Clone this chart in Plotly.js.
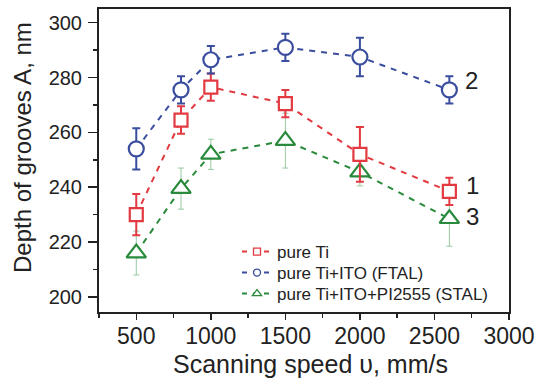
<!DOCTYPE html>
<html>
<head>
<meta charset="utf-8">
<script src="https://cdn.plot.ly/plotly-3.0.1.min.js"></script>
<style>html,body{margin:0;padding:0;background:#fff;}#chart{width:537px;height:380px;}</style>
</head>
<body>
<div id="chart"></div>
<script>
const speeds = [500, 800, 1000, 1500, 2000, 2600];
const tiDepth = [230, 264.5, 276.5, 270.5, 252, 238.5];
const tiErr = [7.5, 5, 5, 5, 10, 5];
const ftalDepth = [254, 275.5, 286.5, 291, 287.5, 275.5];
const ftalErr = [7.5, 5, 5, 5, 7, 5];
const stalDepth = [216, 239.5, 252, 257, 245.5, 228.5];
const stalErr = [8, 7.5, 5.5, 10, 5, 10];
const seriesNames = ['pure Ti', 'pure Ti+ITO (FTAL)', 'pure Ti+ITO+PI2555 (STAL)'];
const curveLabels = ['1', '2', '3'];

const RED = '#e23a40', BLUE = '#3a4d9e', GREEN = '#2a8a3c';
const FONT = 'Arial, "Liberation Sans", sans-serif';

function mainTrace(y, err, color, symbol, size, errColor, errThick, errWidth) {
  return {
    x: speeds, y: y, type: 'scatter', mode: 'lines+markers', showlegend: false,
    line: {color: color, width: 2, dash: '6px,6px'},
    marker: {symbol: symbol, size: size, color: 'white', line: {color: color, width: 2.2}},
    error_y: {type: 'data', array: err, visible: true, color: errColor, thickness: errThick, width: errWidth}
  };
}
function legendTrace(name, color, symbol, size, legendId) {
  return {
    x: [null], y: [null], type: 'scatter', mode: 'lines+markers', name: name, legend: legendId,
    line: {color: color, width: 2, dash: '5px,6px'},
    marker: {symbol: symbol, size: size, color: 'white', line: {color: color, width: 1.3}}
  };
}

const data = [
  mainTrace(stalDepth, stalErr, GREEN, 'triangle-up', 17, '#96c9a0', 1, 3),
  mainTrace(tiDepth, tiErr, RED, 'square', 13, RED, 2, 4),
  mainTrace(ftalDepth, ftalErr, BLUE, 'circle', 15, BLUE, 2, 4),
  legendTrace(seriesNames[0], RED, 'square', 7, 'legend'),
  legendTrace(seriesNames[1], BLUE, 'circle', 7, 'legend2'),
  legendTrace(seriesNames[2], GREEN, 'triangle-up', 8, 'legend3')
];

const axisCommon = {
  showline: true, linecolor: '#222', linewidth: 2, mirror: true,
  ticks: 'outside', tickwidth: 1.5, tickcolor: '#222',
  showgrid: false, zeroline: false
};

function legendAt(yPx) {
  return {
    x: (237 - 99) / 410, y: (312 - yPx) / 303, xanchor: 'left', yanchor: 'middle',
    bgcolor: 'rgba(0,0,0,0)', font: {family: FONT, size: 17, color: '#222'}
  };
}

const layout = {
  width: 537, height: 380,
  margin: {l: 99, r: 28, t: 9, b: 68},
  paper_bgcolor: '#fff', plot_bgcolor: '#fff',
  showlegend: true,
  legend: legendAt(252),
  legend2: legendAt(273),
  legend3: legendAt(294),
  xaxis: Object.assign({}, axisCommon, {
    range: [250, 3000], tickvals: [500, 1000, 1500, 2000, 2500, 3000],
    ticklen: 6,
    tickfont: {family: FONT, size: 23, color: '#222'},
    ticklabelstandoff: -4,
    minor: {dtick: 250, tick0: 250, ticks: 'outside', ticklen: 4, tickcolor: '#222', tickwidth: 1.5}
  }),
  yaxis: Object.assign({}, axisCommon, {
    range: [194.5, 305], tickvals: [200, 220, 240, 260, 280, 300],
    ticklen: 9,
    tickfont: {family: FONT, size: 20, color: '#222'},
    ticklabelstandoff: 2,
    minor: {dtick: 10, tick0: 200, ticks: 'outside', ticklen: 4, tickcolor: '#222', tickwidth: 1.5}
  }),
  annotations: [
    {xref: 'paper', yref: 'paper', x: (310 - 99) / 410, y: (312 - 364) / 303,
     text: 'Scanning speed υ, mm/s', showarrow: false, font: {family: FONT, size: 25, color: '#222'},
     xanchor: 'center', yanchor: 'middle'},
    {xref: 'paper', yref: 'paper', x: (22 - 99) / 410, y: (312 - 148) / 303,
     text: 'Depth of grooves A, nm', textangle: -90, showarrow: false,
     font: {family: FONT, size: 24, color: '#222'}, xanchor: 'center', yanchor: 'middle'},
    {x: 2700, y: 240.5, text: curveLabels[0], showarrow: false, xanchor: 'left', yanchor: 'middle',
     font: {family: FONT, size: 24, color: '#222'}},
    {x: 2690, y: 279, text: curveLabels[1], showarrow: false, xanchor: 'left', yanchor: 'middle',
     font: {family: FONT, size: 24, color: '#222'}},
    {x: 2697, y: 229.2, text: curveLabels[2], showarrow: false, xanchor: 'left', yanchor: 'middle',
     font: {family: FONT, size: 24, color: '#222'}}
  ]
};

Plotly.newPlot('chart', data, layout, {displayModeBar: false, staticPlot: true});
</script>
</body>
</html>
